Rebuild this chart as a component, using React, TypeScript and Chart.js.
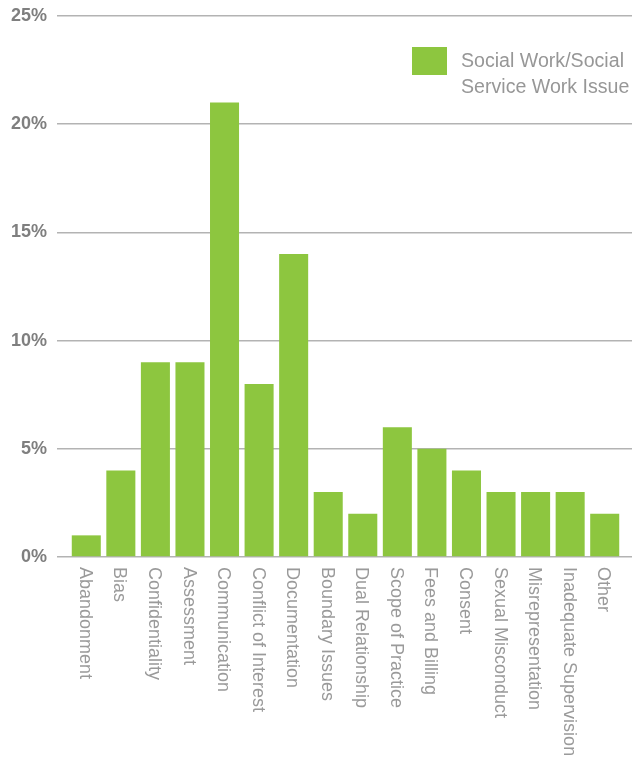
import React, { useEffect, useRef } from "react";
import { Chart, registerables } from "chart.js";

Chart.register(...registerables);

const categories = [
  "Abandonment",
  "Bias",
  "Confidentiality",
  "Assessment",
  "Communication",
  "Conflict of Interest",
  "Documentation",
  "Boundary Issues",
  "Dual Relationship",
  "Scope of Practice",
  "Fees and Billing",
  "Consent",
  "Sexual Misconduct",
  "Misrepresentation",
  "Inadequate Supervision",
  "Other",
];
const values = [1, 4, 9, 9, 21, 8, 14, 3, 2, 6, 5, 4, 3, 3, 3, 2];
const seriesName = ["Social Work/Social", "Service Work Issue"];
const yTicks = [0, 5, 10, 15, 20, 25];

const GREEN = "#8dc63f";
const GRID = "#b3b3b3";

const xLabelPlugin = {
  id: "xLabels",
  afterDraw(chart: any) {
    const ctx = chart.ctx;
    const xs = chart.scales.x;
    const fontSize = 18;
    ctx.save();
    ctx.font = `${fontSize}px "Liberation Sans", Arial, sans-serif`;
    ctx.fillStyle = "#9a9a9a";
    ctx.textAlign = "left";
    ctx.textBaseline = "alphabetic";
    const capH = fontSize * 0.716;
    categories.forEach((label, i) => {
      const cx = xs.getPixelForTick(i);
      ctx.save();
      ctx.translate(cx - capH / 2, chart.chartArea.bottom + 10);
      ctx.rotate(Math.PI / 2);
      ctx.fillText(label, 0, 0);
      ctx.restore();
    });
    ctx.restore();
  },
};

const legendPlugin = {
  id: "customLegend",
  afterDraw(chart: any) {
    const ctx = chart.ctx;
    const right = chart.chartArea.right;
    const top = chart.chartArea.top;
    ctx.save();
    ctx.fillStyle = GREEN;
    ctx.fillRect(right - 210, top + 31, 35, 28);
    ctx.font = `19.6px "Liberation Sans", Arial, sans-serif`;
    ctx.fillStyle = "#979797";
    ctx.textAlign = "left";
    ctx.textBaseline = "alphabetic";
    seriesName.forEach((line, i) => {
      ctx.fillText(line, right - 161, top + 51 + i * 26);
    });
    ctx.restore();
  },
};

const zeroPad = (s: any) => {
  s.paddingTop = 0;
  s.paddingBottom = 0;
};

export default function App() {
  const ref = useRef<HTMLCanvasElement>(null);
  useEffect(() => {
    if (!ref.current) return;
    const chart = new Chart(ref.current, {
      type: "bar",
      data: {
        labels: categories,
        datasets: [
          {
            label: seriesName.join(" "),
            data: values,
            backgroundColor: GREEN,
            borderWidth: 0,
            barPercentage: 0.84,
            categoryPercentage: 1,
          },
        ],
      },
      options: {
        animation: false,
        responsive: false,
        devicePixelRatio: 1,
        layout: { padding: { top: 16, left: 0, right: 0, bottom: 0 } },
        plugins: { legend: { display: false }, tooltip: { enabled: false } },
        scales: {
          x: {
            grid: { display: false },
            border: { display: false },
            ticks: { display: false },
            afterFit: (s: any) => {
              s.height = 200;
            },
          },
          y: {
            min: 0,
            max: 25,
            afterBuildTicks: (s: any) => {
              s.ticks = yTicks.map((v) => ({ value: v }));
            },
            border: { display: false },
            grid: {
              color: GRID,
              lineWidth: 1.5,
              drawTicks: true,
              tickLength: 12,
            },
            ticks: {
              padding: 10,
              color: "#7f7f7f",
              font: { family: '"Liberation Sans", Arial, sans-serif', size: 18, weight: "bold" },
              callback: (v: any) => v + "%",
            },
            afterFit: (s: any) => {
              s.width = 69;
              zeroPad(s);
            },
          },
          y2: {
            position: "right",
            min: 0,
            max: 25,
            afterBuildTicks: (s: any) => {
              s.ticks = yTicks.map((v) => ({ value: v }));
            },
            border: { display: false },
            grid: {
              color: GRID,
              lineWidth: 1.5,
              drawOnChartArea: false,
              drawTicks: true,
              tickLength: 10,
            },
            ticks: { display: false },
            afterFit: (s: any) => {
              s.width = 14;
              zeroPad(s);
            },
          },
        },
      } as any,
      plugins: [xLabelPlugin, legendPlugin],
    });
    return () => chart.destroy();
  }, []);
  return (
    <div style={{ position: "absolute", left: 0, top: 0, width: 636, height: 757, background: "#fff" }}>
      <canvas ref={ref} width={636} height={757} />
    </div>
  );
}
